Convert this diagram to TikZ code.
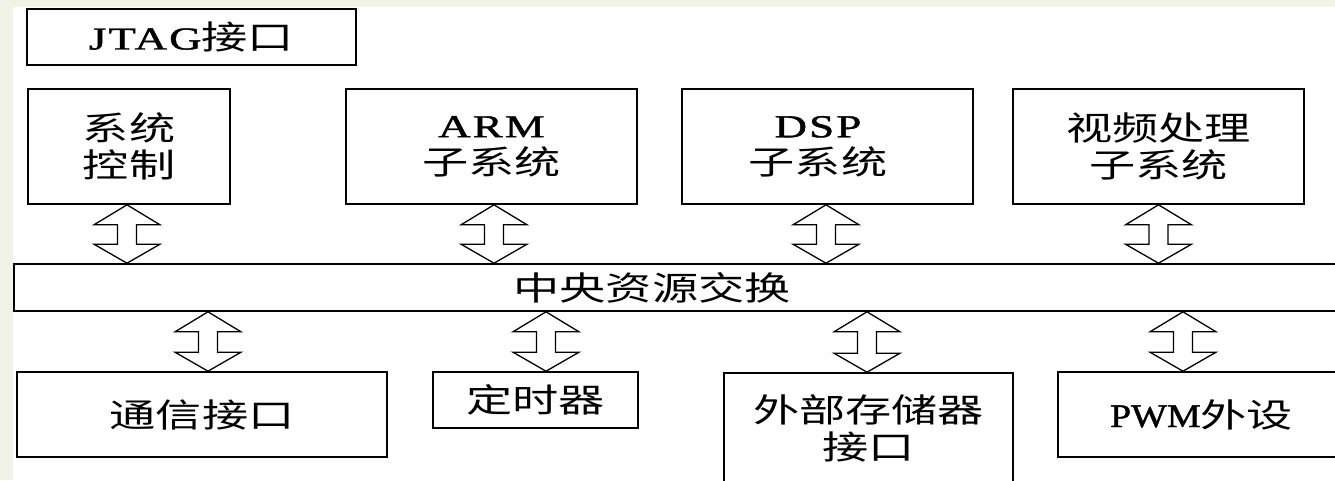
\documentclass[tikz,border=0pt]{standalone}
\usepackage{fontspec}
\setmainfont{Liberation Serif}
\newfontfamily\cjk{Noto Sans CJK SC}
\newfontfamily\lat[LetterSpace=5,FakeBold=1.2]{Liberation Serif}
\newfontfamily\latn[FakeBold=1.2]{Liberation Serif}
\usetikzlibrary{calc}
\definecolor{bgg}{RGB}{240,243,230}
\newcommand\wx[1]{\scalebox{1.4}[1]{#1}}
\newcommand\La[1]{{\fontsize{32}{37}\selectfont\lat #1}}
\newcommand\Lb[1]{\scalebox{1.15}[1]{\fontsize{33}{37}\selectfont\latn #1}}
\newcommand\Ch[1]{{\fontsize{33}{37}\selectfont\cjk #1}}
% double-headed hollow arrow: x from #1, top tip y from #2, bottom tip y from #3
\newcommand\dbarrow[3]{%
  \draw[dblarrow] let \p1=#1, \p2=#2, \p3=#3, \n1={(\y2-(\y3))-39} in
  (\x1,\y2) -- ++(33pt,-20pt) -- ++(-23.5pt,0pt) -- ++(0pt,{-\n1*1pt})
  -- ++(23.5pt,0pt) -- (\x1,\y3) -- ++(-33pt,19pt) -- ++(23.5pt,0pt)
  -- ++(0pt,{\n1*1pt}) -- ++(-23.5pt,0pt) -- cycle;}
\begin{document}
\begin{tikzpicture}[x=1pt,y=-1pt,
  box/.style={draw,line width=1.6pt,inner sep=0pt,align=center,
    font=\fontsize{33}{37}\selectfont},
  dblarrow/.style={draw,fill=white,line width=1.3pt,line join=miter}]
\useasboundingbox (0,0) rectangle (1335,480);
\fill[bgg] (0,0) rectangle (1335,480);
\fill[white] (13,7) rectangle (1335,480);
\begin{scope}
\clip (0,0) rectangle (1335,480);
% top row
\node[box,minimum width=329pt,minimum height=56pt] (jtag) at (191.5,37)
  {\wx{\La{JTAG}\Ch{接口}}};
\node[box,minimum width=202pt,minimum height=115pt] (sys) at (129,146.5)
  {\wx{\Ch{系统}}\\\wx{\Ch{控制}}};
\node[box,minimum width=291pt,minimum height=115pt] (arm) at (491.5,146.5)
  {\wx{\La{ARM}}\\\wx{\Ch{子系统}}};
\node[box,minimum width=291pt,minimum height=115pt] (dsp) at (827.5,146.5)
  {\wx{\La{DSP}}\kern19pt\\\wx{\Ch{子系统}}\kern19pt};
\node[box,minimum width=291pt,minimum height=115pt] (vid) at (1158.5,146.5)
  {\wx{\Ch{视频处理}}\\\wx{\Ch{子系统}}};
% bus
\node[draw,line width=1.6pt,inner sep=0pt,minimum width=1336pt,minimum height=47pt]
  (bus) at (682,287.5) {\wx{\Ch{中央资源交换}}\kern60pt};
% bottom row
\node[box,minimum width=370pt,minimum height=85pt] (com) at (202,414.5)
  {\wx{\Ch{通信接口}}};
\node[box,minimum width=205pt,minimum height=56pt] (tim) at (535.5,400)
  {\wx{\Ch{定时器}}};
\node[box,minimum width=289pt,minimum height=111pt] (ext) at (868.5,428.5)
  {\wx{\Ch{外部存储器}}\\\wx{\Ch{接口}}};
\node[box,minimum width=287pt,minimum height=85pt] (pwm) at (1201.5,414.5)
  {\Lb{PWM}\wx{\Ch{外设}}};
% arrows
\dbarrow{($(sys.south)+(-2,0)$)}{(sys.south)}{(bus.north)}
\dbarrow{($(arm.south)+(2.5,0)$)}{(arm.south)}{(bus.north)}
\dbarrow{($(dsp.south)+(-1.5,0)$)}{(dsp.south)}{(bus.north)}
\dbarrow{(vid.south)}{(vid.south)}{(bus.north)}
\dbarrow{($(com.north)+(6,0)$)}{(bus.south)}{(com.north)}
\dbarrow{($(tim.north)+(10.5,0)$)}{(bus.south)}{(tim.north)}
\dbarrow{($(ext.north)+(-1.5,0)$)}{(bus.south)}{(ext.north)}
\dbarrow{($(pwm.north)+(-18.5,0)$)}{(bus.south)}{(pwm.north)}
\end{scope}
\end{tikzpicture}
\end{document}
